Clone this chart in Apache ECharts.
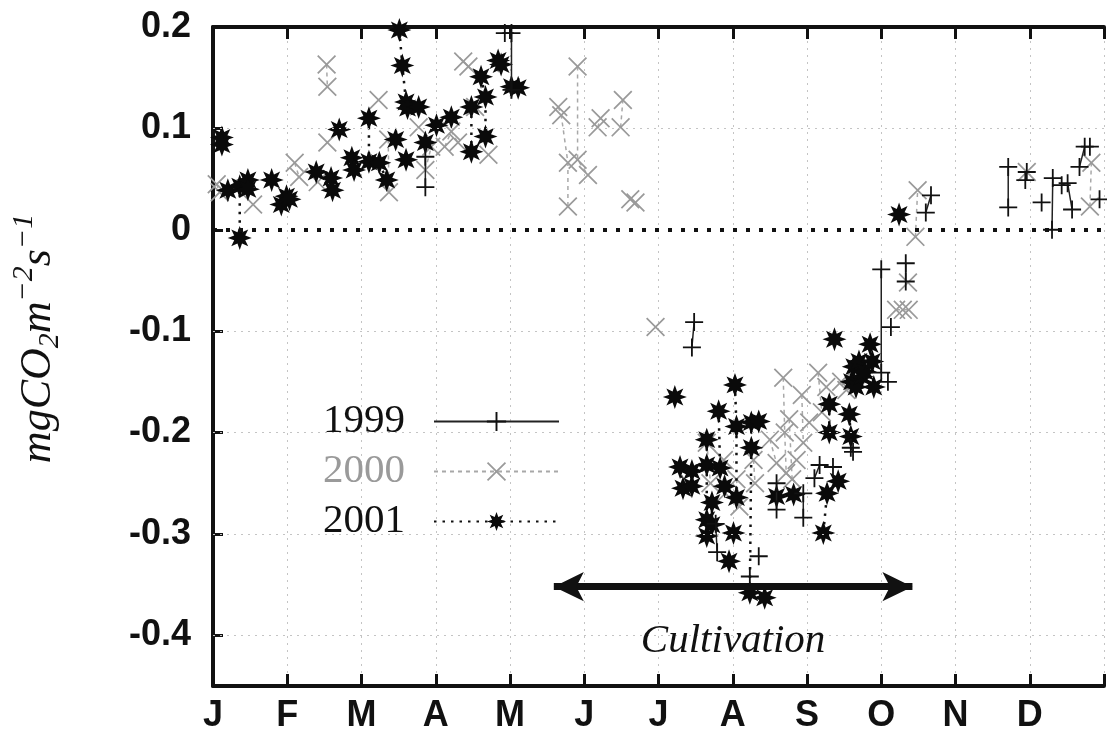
<!DOCTYPE html>
<html><head><meta charset="utf-8">
<script src="https://cdn.jsdelivr.net/npm/echarts@6/dist/echarts.min.js"></script>
<style>html,body{margin:0;padding:0;background:#fff}#c{width:1107px;height:749px}</style>
</head><body><div id="c"></div>
<script>
const monthLabels = ['J','F','M','A','M','J','J','A','S','O','N','D'];
const yTickValues = [-0.4,-0.3,-0.2,-0.1,0,0.1,0.2];
const yGridValues = [-0.4,-0.3,-0.2,-0.1,0.1];
const zeroLineValue = 0;
const cultivationStart = [4.59,-0.352];
const cultivationEnd = [9.42,-0.352];

// x = month (0 = 1 Jan), y = mgCO2 m-2 s-1 ; null separates days
const s1999 = [
 [2.86,0.072],[2.86,0.042], null,
 [3.93,0.194], null,
 [4.02,0.194],[4.02,0.138], null,
 [6.48,-0.091],[6.45,-0.116], null,
 [6.77,-0.29],[6.79,-0.318], null,
 [7.35,-0.322], null,
 [7.23,-0.342], null,
 [7.59,-0.25],[7.59,-0.276], null,
 [7.95,-0.26],[7.95,-0.284], null,
 [8.10,-0.245],[8.17,-0.232], null,
 [8.35,-0.234], null,
 [8.59,-0.215],[8.62,-0.219], null,
 [9.0,-0.039],[9.0,-0.141], null,
 [9.09,-0.150], null,
 [9.13,-0.096], null,
 [9.33,-0.033],[9.33,-0.051], null,
 [9.6,0.017],[9.67,0.034], null,
 [10.71,0.062],[10.71,0.022], null,
 [10.94,0.049],[10.96,0.057], null,
 [11.16,0.027], null,
 [11.31,0.051],[11.30,0.0], null,
 [11.43,0.044],[11.51,0.046],[11.57,0.02], null,
 [11.67,0.062],[11.74,0.082],[11.81,0.082], null,
 [11.94,0.03]
];
const s2000 = [
 [0.05,0.045],[0.09,0.037], null,
 [0.54,0.025], null,
 [1.1,0.066],[1.16,0.052], null,
 [1.41,0.047], null,
 [1.53,0.163],[1.54,0.141], null,
 [1.54,0.086], null,
 [2.23,0.128], null,
 [2.36,0.089],[2.37,0.037], null,
 [2.77,0.101], null,
 [2.86,0.059],[2.94,0.082], null,
 [3.12,0.082],[3.21,0.097],[3.3,0.086], null,
 [3.37,0.166],[3.44,0.161], null,
 [3.53,0.121], null,
 [3.71,0.074], null,
 [4.65,0.121],[4.69,0.113],[4.78,0.066],[4.78,0.023], null,
 [4.91,0.161],[4.91,0.069],[5.05,0.054], null,
 [5.18,0.101],[5.22,0.110], null,
 [5.49,0.101],[5.52,0.128], null,
 [5.62,0.03],[5.69,0.027], null,
 [5.96,-0.096], null,
 [6.65,-0.21],[6.7,-0.25], null,
 [6.88,-0.227],[6.9,-0.26], null,
 [7.05,-0.246],[7.09,-0.273], null,
 [7.28,-0.227],[7.3,-0.25], null,
 [7.5,-0.207],[7.59,-0.230], null,
 [7.68,-0.146],[7.7,-0.2],[7.72,-0.24], null,
 [7.76,-0.187],[7.8,-0.246], null,
 [7.86,-0.227], null,
 [7.93,-0.163],[7.95,-0.21], null,
 [8.03,-0.19], null,
 [8.15,-0.141],[8.2,-0.18], null,
 [8.26,-0.155], null,
 [8.46,-0.150],[8.53,-0.158], null,
 [9.2,-0.079],[9.29,-0.079],[9.37,-0.079], null,
 [9.36,-0.052], null,
 [9.46,-0.007],[9.49,0.039], null,
 [10.96,0.057], null,
 [11.81,0.023],[11.83,0.066]
];
const s2001 = [
 [0.12,0.091],[0.12,0.084], null,
 [0.20,0.039], null,
 [0.36,0.043],[0.36,-0.008], null,
 [0.47,0.049],[0.47,0.04], null,
 [0.79,0.049], null,
 [0.92,0.025],[0.99,0.033],[1.03,0.03], null,
 [1.39,0.057], null,
 [1.59,0.051],[1.61,0.039], null,
 [1.70,0.099], null,
 [1.87,0.071],[1.90,0.059], null,
 [2.10,0.11],[2.10,0.067], null,
 [2.24,0.066],[2.34,0.049], null,
 [2.46,0.089], null,
 [2.51,0.197],[2.55,0.162],[2.6,0.126],[2.62,0.12], null,
 [2.60,0.069], null,
 [2.77,0.121], null,
 [2.86,0.086], null,
 [3.01,0.103], null,
 [3.21,0.111], null,
 [3.48,0.121],[3.48,0.077], null,
 [3.61,0.151],[3.67,0.131],[3.67,0.092], null,
 [3.84,0.167],[3.88,0.163], null,
 [4.02,0.141],[4.11,0.14], null,
 [6.22,-0.165], null,
 [6.29,-0.234],[6.33,-0.255], null,
 [6.45,-0.253],[6.45,-0.238], null,
 [6.65,-0.207],[6.65,-0.232],[6.65,-0.286],[6.65,-0.302], null,
 [6.72,-0.269],[6.72,-0.291], null,
 [6.81,-0.179],[6.83,-0.235], null,
 [6.89,-0.253], null,
 [6.95,-0.327], null,
 [7.01,-0.299], null,
 [7.03,-0.153],[7.05,-0.194],[7.05,-0.264], null,
 [7.25,-0.19],[7.25,-0.215],[7.23,-0.358], null,
 [7.35,-0.189], null,
 [7.43,-0.363], null,
 [7.59,-0.263], null,
 [7.82,-0.261], null,
 [8.22,-0.299],[8.27,-0.26], null,
 [8.3,-0.172],[8.3,-0.2], null,
 [8.37,-0.108], null,
 [8.42,-0.248], null,
 [8.57,-0.182],[8.59,-0.204], null,
 [8.6,-0.15],[8.63,-0.135],[8.66,-0.155], null,
 [8.7,-0.13],[8.74,-0.145],[8.78,-0.14], null,
 [8.85,-0.113],[8.88,-0.13],[8.9,-0.155], null,
 [9.24,0.015]
];

const PLUS = 'path://M9,0H11V9H20V11H11V20H9V11H0V9H9Z';
const CROSS = 'path://M0,1.3L1.3,0L10,8.7L18.7,0L20,1.3L11.3,10L20,18.7L18.7,20L10,11.3L1.3,20L0,18.7L8.7,10Z';
const STAR = 'path://M20,10L14.6,11.9L17.07,17.07L11.9,14.6L10,20L8.1,14.6L2.93,17.07L5.4,11.9L0,10L5.4,8.1L2.93,2.93L8.1,5.4L10,0L11.9,5.4L17.07,2.93L14.6,8.1Z';

const axisFont = {fontFamily:'Liberation Sans', fontWeight:'bold', fontSize:36, color:'#111'};
const serif = 'Liberation Serif';

const chart = echarts.init(document.getElementById('c'), null, {renderer:'canvas'});
chart.setOption({
  animation:false,
  backgroundColor:'#fff',
  grid:{left:213, top:27, right:-2, bottom:63, containLabel:false},
  legend:{
    left:318, top:396, orient:'vertical', align:'right',
    itemWidth:125, itemHeight:24, itemGap:9,
    textStyle:{fontFamily:serif, fontSize:41, color:'#111', padding:[0,24,0,0]},
    data:[
      {name:'1999'},
      {name:'2000', textStyle:{color:'#9a9a9a'}},
      {name:'2001'}
    ]
  },
  xAxis:[{
    type:'value', min:0, max:12, interval:1, position:'bottom',
    axisLine:{show:true, onZero:false, lineStyle:{color:'#111', width:4}},
    axisTick:{show:true, inside:true, length:12, lineStyle:{color:'#111', width:3}},
    axisLabel:{...axisFont, margin:12, formatter:v => monthLabels[v] !== undefined ? monthLabels[v] : ''},
    splitLine:{show:true, lineStyle:{color:'#c4c4c4', width:1, type:[2,5]}}
  },{
    type:'value', min:0, max:12, interval:1, position:'top',
    axisLine:{show:true, onZero:false, lineStyle:{color:'#111', width:4}},
    axisTick:{show:true, inside:true, length:12, lineStyle:{color:'#111', width:3}},
    axisLabel:{show:false}, splitLine:{show:false}
  }],
  yAxis:{
    type:'value', min:-0.45, max:0.2,
    axisLine:{show:true, onZero:false, lineStyle:{color:'#111', width:4}},
    axisTick:{show:true, inside:true, length:10, customValues:yTickValues, lineStyle:{color:'#111', width:3}},
    axisLabel:{...axisFont, margin:22, customValues:yTickValues, formatter:v => Math.abs(v) < 1e-9 ? '0' : v.toFixed(1)},
    splitLine:{show:false},
    name:'{a|mgCO}{b|2}{a|m}{c|−2}{a|s}{c|−1}',
    nameLocation:'middle', nameGap:146,
    nameTextStyle:{
      padding:[0,0,0,36],
      rich:{
        a:{fontFamily:serif, fontStyle:'italic', fontSize:44, color:'#111'},
        b:{fontFamily:serif, fontStyle:'italic', fontSize:30, color:'#111', padding:[24,0,0,0]},
        c:{fontFamily:serif, fontStyle:'italic', fontSize:30, color:'#111', padding:[0,0,28,0]}
      }
    }
  },
  series:[
    {
      name:'gridlines', type:'line', data:[], silent:true, z:1,
      markLine:{silent:true, symbol:'none', label:{show:false},
        lineStyle:{color:'#c4c4c4', width:1, type:[2,5]},
        data: yGridValues.map(v => ({yAxis:v}))}
    },
    {
      name:'zero', type:'line', data:[], silent:true, z:2,
      markLine:{silent:true, symbol:'none', label:{show:false},
        lineStyle:{color:'#111', width:4, type:[4,9]},
        data:[{yAxis:zeroLineValue}]}
    },
    {
      name:'2000', type:'line', data:s2000, connectNulls:false, z:3,
      symbol:CROSS, symbolSize:19, showAllSymbol:true,
      itemStyle:{color:'#9a9a9a'},
      lineStyle:{color:'#a8a8a8', width:1.5, type:[4,4]}
    },
    {
      name:'1999', type:'line', data:s1999, connectNulls:false, z:5,
      symbol:PLUS, symbolSize:18, showAllSymbol:true,
      itemStyle:{color:'#111'},
      lineStyle:{color:'#222', width:1.5, type:'solid'}
    },
    {
      name:'2001', type:'line', data:s2001, connectNulls:false, z:4,
      symbol:STAR, symbolSize:24, showAllSymbol:true,
      itemStyle:{color:'#0a0a0a'},
      lineStyle:{color:'#111', width:2.5, type:[2.5,6]}
    },
    {
      name:'cultivation', type:'line', data:[], silent:true, z:6,
      markLine:{silent:true, symbol:['arrow','arrow'], symbolSize:[22,30],
        lineStyle:{color:'#111', width:7, type:'solid'},
        label:{show:true, position:'insideMiddleBottom', distance:34, formatter:'Cultivation',
          fontFamily:serif, fontStyle:'italic', fontSize:41, color:'#111'},
        data:[[{coord:cultivationStart},{coord:cultivationEnd}]]}
    }
  ]
});
</script></body></html>
